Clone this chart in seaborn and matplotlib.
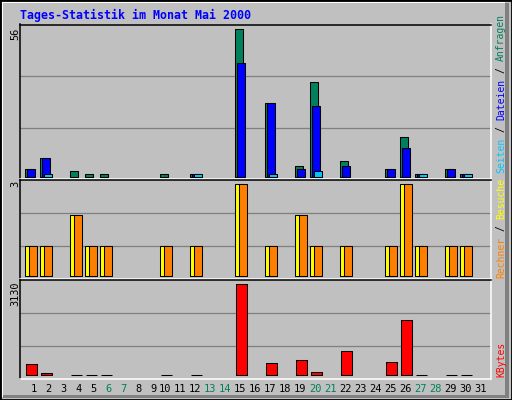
import numpy as np
import pandas as pd
import matplotlib
matplotlib.use('Agg')
import matplotlib.pyplot as plt
import matplotlib.transforms as mtransforms
from matplotlib.patches import Rectangle
import seaborn as sns

# daily values for May 2000
days = np.arange(1, 32)
hits = [3, 7, 0, 2, 1, 1, 0, 0, 0, 1, 0, 1, 0, 0, 56, 0, 28, 0, 4, 36, 0, 6, 0, 0, 3, 15, 1, 0, 3, 1, 0]
files = [3, 7, 0, 0, 0, 0, 0, 0, 0, 0, 0, 1, 0, 0, 43, 0, 28, 0, 3, 27, 0, 4, 0, 0, 3, 11, 1, 0, 3, 1, 0]
pages = [0, 1, 0, 0, 0, 0, 0, 0, 0, 0, 0, 1, 0, 0, 0, 0, 1, 0, 0, 2, 0, 0, 0, 0, 0, 0, 1, 0, 0, 1, 0]
visits = [1, 1, 0, 2, 1, 1, 0, 0, 0, 1, 0, 1, 0, 0, 3, 0, 1, 0, 2, 1, 0, 1, 0, 0, 1, 3, 1, 0, 1, 1, 0]
sites = [1, 1, 0, 2, 1, 1, 0, 0, 0, 1, 0, 1, 0, 0, 3, 0, 1, 0, 2, 1, 0, 1, 0, 0, 1, 3, 1, 0, 1, 1, 0]
kbytes = [388, 75, 0, 3, 3, 3, 0, 0, 0, 3, 0, 3, 0, 0, 3130, 0, 422, 0, 527, 110, 0, 839, 0, 0, 457, 1892, 3, 0, 3, 3, 0]
weekend_days = [6, 7, 13, 14, 20, 21, 27, 28]

title = 'Tages-Statistik im Monat Mai 2000'

GRAY = '#c0c0c0'
DARK = '#808080'
GREEN = '#00805c'
BLUE = '#0000ff'
CYAN = '#00c8ff'
YELLOW = '#ffff00'
ORANGE = '#ff8000'
RED = '#ff0000'
MONO = 'DejaVu Sans Mono'

W, H = 512, 400


def fx(px):
    return px / W


def fy(py):
    return 1 - py / H


def draw_bars(ax, values, offset, width, color):
    df = pd.DataFrame({'day': days + offset, 'value': np.array(values, dtype=float)})
    df.loc[df['value'] == 0, 'value'] = np.nan
    sns.barplot(data=df, x='day', y='value', native_scale=True, width=width,
                color=color, saturation=1, edgecolor='black', linewidth=0.75,
                errorbar=None, ax=ax)


def style_panel(ax, ylim):
    ax.set_facecolor(GRAY)
    ax.set_xlim(0.397, 31.76)
    ax.set_ylim(*ylim)
    lo, hi = ylim
    for k in (1, 2):
        ax.axhline(lo + (hi - lo) * k / 3, color=DARK, lw=0.9, zorder=0.5)
    ax.set_xticks([])
    ax.set_yticks([])
    ax.set_xlabel('')
    ax.set_ylabel('')
    for side in ('left', 'top'):
        ax.spines[side].set_color('black')
    for side in ('right', 'bottom'):
        ax.spines[side].set_color('white')
    for s in ax.spines.values():
        s.set_linewidth(1.1)


sns.set_style('white')
plt.rcParams['font.family'] = [MONO, 'DejaVu Sans']

fig = plt.figure(figsize=(W / 100, H / 100), dpi=100)
fig.patch.set_facecolor(GRAY)

ax1 = fig.add_axes([fx(20), fy(179), fx(490.5) - fx(20), fy(24.5) - fy(179)])
ax2 = fig.add_axes([fx(20), fy(279), fx(490.5) - fx(20), fy(180) - fy(279)])
ax3 = fig.add_axes([fx(20), fy(379), fx(490.5) - fx(20), fy(280) - fy(379)])

# hits / files / pages
draw_bars(ax1, hits, 0.0, 0.49, GREEN)
draw_bars(ax1, files, 0.133, 0.49, BLUE)
draw_bars(ax1, pages, 0.265, 0.52, CYAN)
style_panel(ax1, (-0.87, 57.8))

# visits / sites
draw_bars(ax2, visits, 0.0, 0.49, YELLOW)
draw_bars(ax2, sites, 0.263, 0.49, ORANGE)
style_panel(ax2, (-0.088, 3.14))

# kbytes
draw_bars(ax3, kbytes, 0.163, 0.69, RED)
style_panel(ax3, (-127, 3278))

# max labels on the left
for text, ytop in (('56', 27.5), ('3', 181), ('3130', 282)):
    fig.text(fx(15), fy(ytop), text, rotation=90, ha='center', va='top',
             fontsize=7.4, family=MONO, color='black')

# day labels
trans = mtransforms.blended_transform_factory(ax3.transData, fig.transFigure)
for d in days:
    col = GREEN if d in weekend_days else 'black'
    ax3.text(d + 0.5, fy(392.5), str(d), transform=trans, ha='right',
             va='baseline', fontsize=7.5, family=MONO, color=col)

# legend text on the right, reading upwards
fs = 7.0
cw = fs * 100 / 72 * 0.602
pieces = [('Rechner', ORANGE, 0), ('/', 'black', 8), ('Besuche', YELLOW, 10),
          ('Seiten', CYAN, 18), ('/', 'black', 25), ('Dateien', BLUE, 27),
          ('/', 'black', 35), ('Anfragen', GREEN, 37)]
for text, col, pos in pieces:
    fig.text(fx(501), fy(278 - pos * cw), text, rotation=90, ha='center',
             va='bottom', fontsize=fs, family=MONO, color=col)
fig.text(fx(501), fy(377), 'KBytes', rotation=90, ha='center', va='bottom',
         fontsize=fs, family=MONO, color=RED)

# title
fig.text(fx(20), fy(19.3), title, ha='left', va='baseline', fontsize=8.4,
         family=MONO, fontweight='bold', color=BLUE)

# bevelled frame
fig.add_artist(Rectangle((fx(505), fy(397)), fx(4), fy(3) - fy(397),
                         transform=fig.transFigure, color=DARK, lw=0))
fig.add_artist(Rectangle((fx(3), fy(397.5)), fx(506), fy(394.5) - fy(397.5),
                         transform=fig.transFigure, color=DARK, lw=0))
fig.add_artist(Rectangle((fx(1.5), fy(397)), fx(1.5), fy(1.5) - fy(397),
                         transform=fig.transFigure, color='white', lw=0))
fig.add_artist(Rectangle((fx(1.5), fy(3)), fx(503), fy(1.5) - fy(3),
                         transform=fig.transFigure, color='white', lw=0))
fig.add_artist(Rectangle((0, 0), 1, 1, transform=fig.transFigure,
                         fill=False, edgecolor='black', lw=2))

fig.savefig('out.png', dpi=100, facecolor=fig.get_facecolor())
